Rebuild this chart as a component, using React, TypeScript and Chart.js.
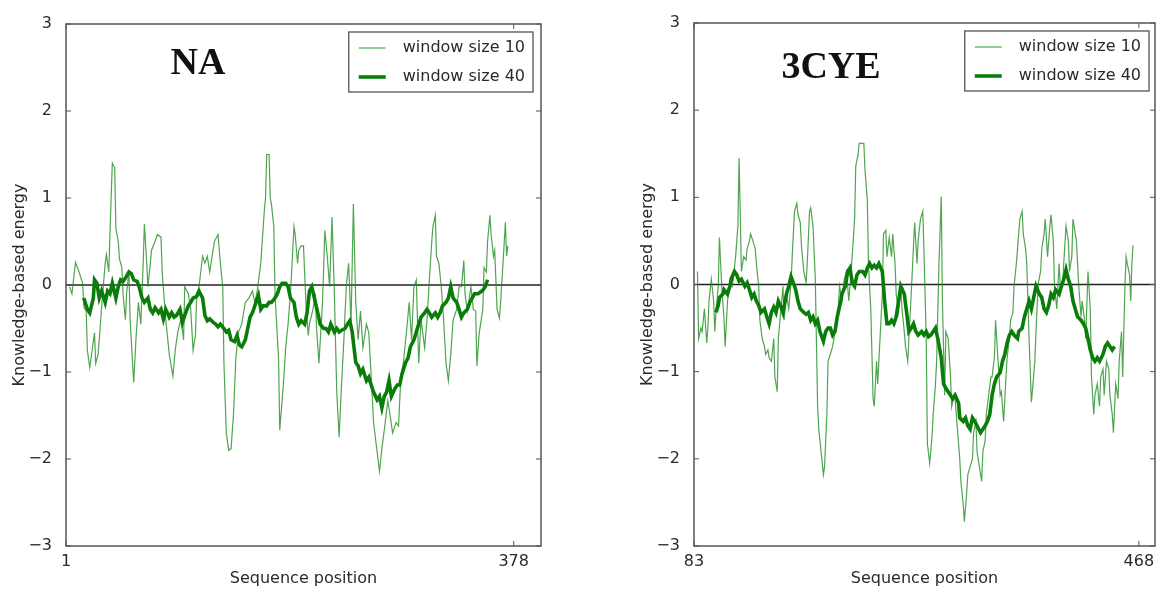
import React, { useEffect, useRef } from 'react';
import { Chart, registerables } from 'chart.js';

Chart.register(...registerables);

type Pt = [number, number];

// ---------- data ----------
const SERIES_LABELS = ['window size 10', 'window size 40'];
const Y_TICKS = [-3, -2, -1, 0, 1, 2, 3];
const NA_X_TICKS = [1, 378];
const CYE_X_TICKS = [83, 468];

// NA, window size 10 : [sequence position, energy]
const NA_W10: Pt[] = [[4,-0.02],[6,-0.1],[9,0.26],[12,0.15],[15,0.02],[16,-0.25],[18,-0.3],[19,-0.75],[21,-0.95],[23,-0.75],[25,-0.55],[26,-0.9],[28,-0.8],[29,-0.63],[31,-0.25],[34,0.25],[35,0.35],[37,0.15],[39,1.0],[40,1.4],[42,1.35],[43,0.65],[45,0.5],[46,0.3],[48,0.2],[49,-0.1],[51,-0.4],[52,-0.1],[54,0.15],[55,-0.4],[58,-1.12],[60,-0.6],[62,-0.2],[64,-0.45],[66,0.25],[67,0.7],[69,0.25],[70,-0.02],[72,0.25],[73,0.4],[76,0.5],[78,0.58],[81,0.55],[82,0.15],[85,-0.4],[88,-0.8],[91,-1.05],[93,-0.75],[95,-0.55],[98,-0.38],[100,-0.63],[101,-0.02],[104,-0.1],[106,-0.28],[108,-0.75],[110,-0.58],[111,-0.15],[113,-0.02],[116,0.33],[118,0.25],[120,0.33],[122,0.15],[124,0.33],[126,0.5],[129,0.58],[131,0.25],[133,-0.02],[134,-0.9],[136,-1.7],[138,-1.9],[140,-1.88],[142,-1.5],[144,-0.85],[146,-0.55],[149,-0.45],[152,-0.2],[155,-0.15],[158,-0.07],[160,-0.2],[162,-0.07],[165,0.25],[168,0.85],[169,1.0],[170,1.5],[172,1.5],[173,1.0],[174,0.93],[176,0.67],[177,-0.1],[180,-0.85],[181,-1.67],[184,-1.15],[186,-0.72],[188,-0.45],[190,-0.1],[193,0.67],[194,0.58],[196,0.25],[197,0.4],[199,0.45],[201,0.45],[203,-0.2],[205,-0.58],[206,-0.45],[209,-0.28],[211,-0.1],[212,-0.5],[214,-0.9],[217,-0.2],[219,0.63],[221,0.33],[223,-0.02],[225,0.78],[227,-0.1],[229,-1.23],[231,-1.75],[233,-1.15],[235,-0.63],[237,-0.02],[239,0.25],[241,-0.45],[243,0.93],[245,-0.2],[247,-0.63],[249,-0.3],[251,-0.72],[254,-0.45],[256,-0.55],[258,-1.05],[260,-1.58],[263,-1.92],[265,-2.14],[267,-1.88],[269,-1.67],[272,-1.33],[274,-1.5],[276,-1.7],[279,-1.58],[281,-1.62],[283,-1.05],[285,-0.9],[288,-0.5],[290,-0.2],[292,-0.63],[294,-0.02],[296,0.06],[298,-0.9],[300,-0.4],[303,-0.72],[305,-0.4],[307,0.06],[309,0.5],[310,0.67],[312,0.8],[313,0.33],[315,0.25],[317,-0.02],[319,-0.4],[321,-0.9],[323,-1.1],[325,-0.8],[327,-0.4],[330,-0.28],[332,-0.02],[334,-0.02],[336,0.28],[337,-0.1],[339,-0.3],[342,-0.02],[344,-0.28],[346,-0.3],[347,-0.93],[349,-0.55],[352,-0.28],[353,0.2],[355,0.15],[356,0.5],[358,0.8],[359,0.58],[361,0.33],[362,0.4],[364,-0.28],[366,-0.38],[367,-0.2],[369,0.25],[371,0.72],[372,0.33],[373,0.45]];

// NA, window size 40
const NA_W40: Pt[] = [[16,-0.15],[19,-0.28],[21,-0.32],[24,-0.15],[25,0.06],[27,0.02],[29,-0.15],[31,-0.07],[34,-0.2],[36,-0.07],[38,-0.1],[40,0.02],[43,-0.15],[45,-0.02],[47,0.06],[49,0.04],[52,0.1],[54,0.15],[56,0.13],[58,0.06],[61,0.04],[63,-0.04],[65,-0.15],[67,-0.2],[70,-0.15],[72,-0.28],[74,-0.32],[76,-0.26],[79,-0.32],[81,-0.28],[83,-0.39],[85,-0.28],[88,-0.37],[90,-0.32],[92,-0.37],[94,-0.35],[97,-0.28],[99,-0.43],[101,-0.35],[104,-0.24],[106,-0.2],[108,-0.15],[111,-0.13],[113,-0.07],[116,-0.15],[118,-0.35],[120,-0.41],[122,-0.39],[125,-0.43],[127,-0.45],[129,-0.48],[131,-0.45],[134,-0.5],[136,-0.54],[138,-0.52],[140,-0.63],[143,-0.65],[145,-0.58],[147,-0.69],[149,-0.71],[152,-0.63],[154,-0.5],[156,-0.37],[158,-0.32],[161,-0.2],[163,-0.12],[165,-0.28],[167,-0.24],[170,-0.24],[172,-0.2],[174,-0.2],[177,-0.15],[179,-0.1],[181,-0.02],[183,0.02],[186,0.02],[188,-0.02],[190,-0.15],[193,-0.2],[195,-0.37],[197,-0.45],[199,-0.41],[202,-0.45],[204,-0.32],[206,-0.07],[208,-0.02],[211,-0.2],[213,-0.32],[215,-0.45],[218,-0.5],[220,-0.5],[222,-0.54],[224,-0.45],[227,-0.54],[229,-0.5],[231,-0.54],[233,-0.52],[236,-0.5],[238,-0.45],[240,-0.41],[242,-0.54],[245,-0.89],[247,-0.93],[249,-1.02],[251,-0.97],[254,-1.1],[256,-1.06],[258,-1.15],[260,-1.23],[263,-1.32],[265,-1.28],[267,-1.41],[269,-1.28],[271,-1.23],[273,-1.1],[275,-1.28],[278,-1.19],[280,-1.15],[282,-1.15],[284,-1.02],[287,-0.89],[289,-0.84],[291,-0.71],[294,-0.63],[296,-0.54],[298,-0.45],[300,-0.37],[303,-0.32],[305,-0.28],[307,-0.32],[309,-0.37],[312,-0.32],[314,-0.37],[316,-0.32],[318,-0.24],[321,-0.2],[323,-0.15],[325,-0.02],[327,-0.15],[330,-0.2],[332,-0.28],[334,-0.37],[336,-0.32],[339,-0.28],[341,-0.2],[343,-0.15],[345,-0.1],[348,-0.1],[350,-0.08],[352,-0.06],[354,-0.02],[356,0.06]];

// 3CYE, window size 10
const CYE_W10: Pt[] = [[86,0.15],[87,-0.62],[89,-0.5],[90,-0.54],[92,-0.28],[94,-0.67],[95,-0.5],[96,-0.19],[98,0.06],[100,-0.19],[101,-0.54],[102,-0.32],[104,-0.02],[105,0.54],[107,-0.02],[109,-0.41],[110,-0.71],[112,-0.19],[114,0.06],[116,-0.02],[117,0.06],[119,0.32],[121,0.67],[122,1.45],[123,0.84],[124,0.15],[126,0.32],[128,0.28],[129,0.41],[131,0.5],[132,0.58],[134,0.5],[136,0.41],[137,0.24],[139,-0.02],[140,-0.41],[142,-0.62],[144,-0.71],[145,-0.8],[147,-0.75],[148,-0.84],[150,-0.88],[152,-0.62],[153,-1.06],[155,-1.23],[156,-0.62],[158,-0.32],[160,-0.02],[161,-0.41],[163,-0.11],[165,-0.28],[167,0.02],[168,0.32],[170,0.84],[172,0.93],[173,0.8],[175,0.71],[176,0.45],[178,0.15],[180,0.02],[181,0.24],[183,0.84],[184,0.88],[186,0.67],[188,0.06],[190,-1.4],[191,-1.66],[193,-1.92],[195,-2.18],[196,-2.09],[198,-1.49],[199,-0.88],[201,-0.8],[203,-0.71],[205,-0.54],[207,-0.45],[209,-0.02],[211,-0.19],[213,0.06],[215,0.15],[217,-0.19],[219,0.15],[222,0.75],[223,1.36],[225,1.49],[226,1.62],[228,1.62],[230,1.62],[231,1.31],[233,0.97],[234,0.24],[236,-0.28],[238,-1.31],[239,-1.4],[241,-0.88],[242,-1.14],[244,-0.62],[246,-0.11],[247,0.58],[249,0.62],[250,0.32],[252,0.54],[254,0.32],[255,0.58],[257,0.24],[258,-0.11],[260,-0.32],[262,-0.02],[263,-0.28],[265,-0.54],[266,-0.71],[268,-0.88],[269,-0.62],[271,-0.11],[273,0.45],[274,0.71],[276,0.24],[277,0.5],[279,0.75],[281,0.84],[282,0.41],[284,-0.62],[285,-1.83],[287,-2.05],[289,-1.75],[290,-1.49],[292,-1.14],[293,-0.88],[295,0.24],[297,1.01],[298,-0.19],[300,-1.27],[301,-0.54],[303,-0.62],[305,-1.06],[306,-1.4],[308,-1.27],[309,-1.31],[311,-1.66],[313,-2.0],[314,-2.26],[316,-2.52],[317,-2.72],[319,-2.39],[320,-2.18],[322,-2.09],[324,-2.0],[325,-1.7],[327,-1.57],[328,-1.92],[330,-2.09],[332,-2.26],[333,-1.92],[335,-1.79],[336,-1.49],[338,-1.27],[340,-1.06],[341,-1.06],[343,-0.84],[344,-0.41],[346,-0.84],[348,-1.27],[349,-1.23],[351,-1.57],[352,-1.31],[354,-0.84],[356,-0.62],[357,-0.41],[359,-0.32],[360,-0.02],[362,0.24],[364,0.58],[365,0.75],[367,0.84],[368,0.58],[370,0.41],[371,0.24],[373,-0.62],[375,-1.35],[376,-1.2],[378,-0.88],[379,-0.54],[381,0.02],[383,0.15],[384,0.41],[386,0.58],[387,0.75],[389,0.32],[391,0.67],[392,0.8],[394,0.5],[395,-0.02],[397,-0.28],[399,0.24],[400,-0.02],[402,-0.02],[403,0.24],[405,0.67],[407,0.5],[408,0.15],[410,0.32],[411,0.75],[413,0.58],[414,0.5],[416,-0.02],[418,-0.37],[419,-0.19],[421,-0.41],[422,-0.62],[424,0.15],[426,-0.28],[427,-1.06],[429,-1.49],[430,-1.27],[432,-1.14],[434,-1.4],[435,-1.06],[437,-0.97],[438,-1.27],[440,-0.88],[442,-0.97],[443,-1.27],[445,-1.49],[446,-1.7],[448,-1.14],[450,-1.31],[451,-0.88],[453,-0.54],[454,-1.06],[456,-0.02],[457,0.32],[458,0.24],[460,0.11],[461,-0.19],[462,0.24],[463,0.45]];

// 3CYE, window size 40
const CYE_W40: Pt[] = [[102,-0.32],[104,-0.24],[105,-0.15],[108,-0.11],[109,-0.06],[112,-0.11],[114,-0.02],[116,0.09],[118,0.15],[120,0.11],[122,0.04],[124,0.06],[127,-0.02],[129,0.02],[131,-0.06],[133,-0.15],[135,-0.11],[137,-0.19],[139,-0.24],[141,-0.32],[144,-0.28],[146,-0.37],[148,-0.45],[150,-0.32],[152,-0.26],[154,-0.32],[156,-0.19],[159,-0.28],[160,-0.32],[163,-0.11],[165,-0.02],[167,0.09],[169,0.02],[171,-0.06],[173,-0.19],[175,-0.28],[178,-0.32],[180,-0.34],[182,-0.32],[184,-0.41],[186,-0.37],[188,-0.45],[190,-0.41],[192,-0.54],[195,-0.65],[197,-0.54],[199,-0.5],[201,-0.5],[203,-0.58],[205,-0.54],[207,-0.37],[210,-0.19],[211,-0.11],[214,-0.02],[216,0.15],[218,0.19],[220,0.02],[222,-0.02],[224,0.11],[226,0.15],[229,0.15],[231,0.11],[233,0.19],[235,0.24],[237,0.19],[239,0.22],[241,0.19],[243,0.24],[246,0.15],[248,-0.19],[250,-0.45],[252,-0.45],[254,-0.41],[256,-0.45],[258,-0.37],[261,-0.11],[262,-0.02],[265,-0.11],[267,-0.32],[269,-0.54],[271,-0.5],[273,-0.45],[275,-0.54],[277,-0.58],[280,-0.54],[282,-0.58],[284,-0.54],[286,-0.6],[288,-0.58],[290,-0.54],[292,-0.5],[294,-0.62],[297,-0.84],[299,-1.14],[301,-1.19],[303,-1.23],[305,-1.27],[307,-1.31],[309,-1.27],[312,-1.36],[313,-1.53],[316,-1.57],[318,-1.53],[320,-1.62],[322,-1.66],[324,-1.53],[326,-1.57],[328,-1.62],[331,-1.7],[333,-1.66],[335,-1.62],[337,-1.57],[339,-1.49],[341,-1.27],[343,-1.14],[345,-1.06],[348,-1.01],[350,-0.88],[352,-0.8],[354,-0.67],[356,-0.58],[358,-0.54],[360,-0.58],[363,-0.62],[364,-0.54],[367,-0.5],[369,-0.37],[371,-0.28],[373,-0.19],[375,-0.28],[377,-0.15],[379,-0.02],[382,-0.11],[384,-0.15],[386,-0.28],[388,-0.32],[390,-0.24],[392,-0.11],[394,-0.15],[396,-0.06],[399,-0.11],[401,-0.02],[403,0.06],[405,0.17],[407,0.06],[409,-0.02],[411,-0.19],[413,-0.28],[415,-0.37],[418,-0.41],[420,-0.45],[422,-0.5],[424,-0.62],[426,-0.75],[428,-0.84],[430,-0.88],[432,-0.84],[434,-0.88],[437,-0.8],[439,-0.71],[441,-0.67],[443,-0.71],[445,-0.75],[447,-0.71]];

// ---------- styling ----------
const FONT = '"DejaVu Sans", sans-serif';
const TEXT_COLOR = '#2a2a2a';
const AXIS_COLOR = '#555555';
const THIN_COLOR = 'rgba(30,140,30,0.78)';
const THICK_COLOR = '#0a7c0a';

interface PanelCfg {
  name: string;
  left: number;
  width: number;
  padRight: number;
  padTop: number;
  xMin: number;
  xMax: number;
  xTicks: number[];
  thin: Pt[];
  thick: Pt[];
  titleDx: number;
  titleDy: number;
  legendGap: number;
}

const PANELS: PanelCfg[] = [
  { name: 'NA', left: 0, width: 570, padRight: 29, padTop: 24, xMin: 1, xMax: 401, xTicks: NA_X_TICKS, thin: NA_W10, thick: NA_W40, titleDx: 132, titleDy: 40, legendGap: 8 },
  { name: '3CYE', left: 628, width: 529, padRight: 2, padTop: 23, xMin: 83, xMax: 482, xTicks: CYE_X_TICKS, thin: CYE_W10, thick: CYE_W40, titleDx: 137, titleDy: 45, legendGap: 6 },
];

const toXY = (arr: Pt[]) => arr.map(([x, y]) => ({ x, y }));
const fmt = (v: number) => (v < 0 ? '\u2212' + Math.abs(v) : String(v));

const decorPlugin = {
  id: 'panelDecor',
  beforeDatasetsDraw(chart: any) {
    const { ctx, chartArea: a, scales } = chart;
    const y0 = scales.y.getPixelForValue(0);
    ctx.save();
    ctx.strokeStyle = '#222';
    ctx.lineWidth = 1.5;
    ctx.beginPath();
    ctx.moveTo(a.left, y0);
    ctx.lineTo(a.right, y0);
    ctx.stroke();
    ctx.restore();
  },
  afterDatasetsDraw(chart: any, _args: any, opts: any) {
    const { ctx, chartArea: a, scales } = chart;
    ctx.save();
    // frame
    ctx.strokeStyle = AXIS_COLOR;
    ctx.lineWidth = 1.5;
    ctx.strokeRect(a.left, a.top, a.right - a.left, a.bottom - a.top);
    // inward ticks
    ctx.lineWidth = 1;
    const tl = 5;
    ctx.beginPath();
    scales.y.ticks.forEach((t: any) => {
      const py = scales.y.getPixelForValue(t.value);
      ctx.moveTo(a.left, py); ctx.lineTo(a.left + tl, py);
      ctx.moveTo(a.right, py); ctx.lineTo(a.right - tl, py);
    });
    scales.x.ticks.forEach((t: any) => {
      const px = scales.x.getPixelForValue(t.value);
      ctx.moveTo(px, a.bottom); ctx.lineTo(px, a.bottom - tl);
      ctx.moveTo(px, a.top); ctx.lineTo(px, a.top + tl);
    });
    ctx.stroke();

    // legend
    const ds = chart.data.datasets;
    ctx.font = '16px ' + FONT;
    const textW = Math.max(...ds.map((d: any) => ctx.measureText(d.label).width));
    const boxW = 54 + textW + 8;
    const boxH = 60;
    const bx = a.right - opts.legendGap - boxW;
    const by = a.top + 8;
    ctx.fillStyle = '#ffffff';
    ctx.fillRect(bx, by, boxW, boxH);
    ctx.strokeStyle = AXIS_COLOR;
    ctx.lineWidth = 1.3;
    ctx.strokeRect(bx, by, boxW, boxH);
    ds.forEach((d: any, i: number) => {
      const ry = by + 16 + i * 29;
      ctx.strokeStyle = d.borderColor;
      ctx.lineWidth = d.borderWidth;
      ctx.beginPath();
      ctx.moveTo(bx + 10, ry);
      ctx.lineTo(bx + 37, ry);
      ctx.stroke();
      ctx.fillStyle = TEXT_COLOR;
      ctx.textBaseline = 'middle';
      ctx.textAlign = 'left';
      ctx.fillText(d.label, bx + 54, ry);
    });

    // panel title
    ctx.font = 'bold 38px "Liberation Serif", "Times New Roman", serif';
    ctx.fillStyle = '#111';
    ctx.textAlign = 'center';
    ctx.textBaseline = 'middle';
    ctx.fillText(opts.title, a.left + opts.titleDx, a.top + opts.titleDy);
    ctx.restore();
  },
};

function Panel({ cfg }: { cfg: PanelCfg }) {
  const ref = useRef<HTMLCanvasElement>(null);
  useEffect(() => {
    const chart = new Chart(ref.current as HTMLCanvasElement, {
      type: 'line',
      data: {
        datasets: [
          { label: SERIES_LABELS[0], data: toXY(cfg.thin), borderColor: THIN_COLOR, borderWidth: 1.2, pointRadius: 0, order: 1, tension: 0 },
          { label: SERIES_LABELS[1], data: toXY(cfg.thick), borderColor: THICK_COLOR, borderWidth: 3.6, pointRadius: 0, order: 0, tension: 0 },
        ],
      },
      options: {
        responsive: false,
        animation: false,
        events: [],
        layout: { padding: { left: 0, right: cfg.padRight, top: cfg.padTop, bottom: 0 } },
        plugins: {
          legend: { display: false },
          tooltip: { enabled: false },
          panelDecor: { title: cfg.name, titleDx: cfg.titleDx, titleDy: cfg.titleDy, legendGap: cfg.legendGap },
        } as any,
        scales: {
          x: {
            type: 'linear',
            min: cfg.xMin,
            max: cfg.xMax,
            afterBuildTicks: (s: any) => { s.ticks = cfg.xTicks.map((v) => ({ value: v })); },
            afterFit: (s: any) => { s.height = 44; },
            grid: { display: false },
            border: { display: false },
            ticks: { font: { family: FONT, size: 16 }, color: TEXT_COLOR, padding: -2, maxRotation: 0, autoSkip: false, callback: (v: any) => String(v) },
            title: { display: true, text: 'Sequence position', font: { family: FONT, size: 16 }, color: TEXT_COLOR, padding: { top: 0, bottom: 2 } },
          },
          y: {
            type: 'linear',
            min: -3,
            max: 3,
            afterBuildTicks: (s: any) => { s.ticks = Y_TICKS.map((v) => ({ value: v })); },
            afterFit: (s: any) => { s.width = 66; },
            grid: { display: false },
            border: { display: false },
            ticks: { font: { family: FONT, size: 16 }, color: TEXT_COLOR, padding: 6, callback: (v: any) => fmt(Number(v)) },
            title: { display: true, text: 'Knowledge-based energy', font: { family: FONT, size: 16 }, color: TEXT_COLOR, padding: { top: 10, bottom: 0 } },
          },
        },
      },
      plugins: [decorPlugin as any],
    });
    return () => chart.destroy();
  }, [cfg]);
  return (
    <canvas
      ref={ref}
      width={cfg.width}
      height={590}
      style={{ position: 'absolute', left: cfg.left, top: 0, width: cfg.width, height: 590 }}
    />
  );
}

export default function App() {
  return (
    <div style={{ position: 'absolute', left: 0, top: 0, width: 1157, height: 590, background: '#fff', overflow: 'hidden' }}>
      {PANELS.map((p) => (
        <Panel key={p.name} cfg={p} />
      ))}
    </div>
  );
}
